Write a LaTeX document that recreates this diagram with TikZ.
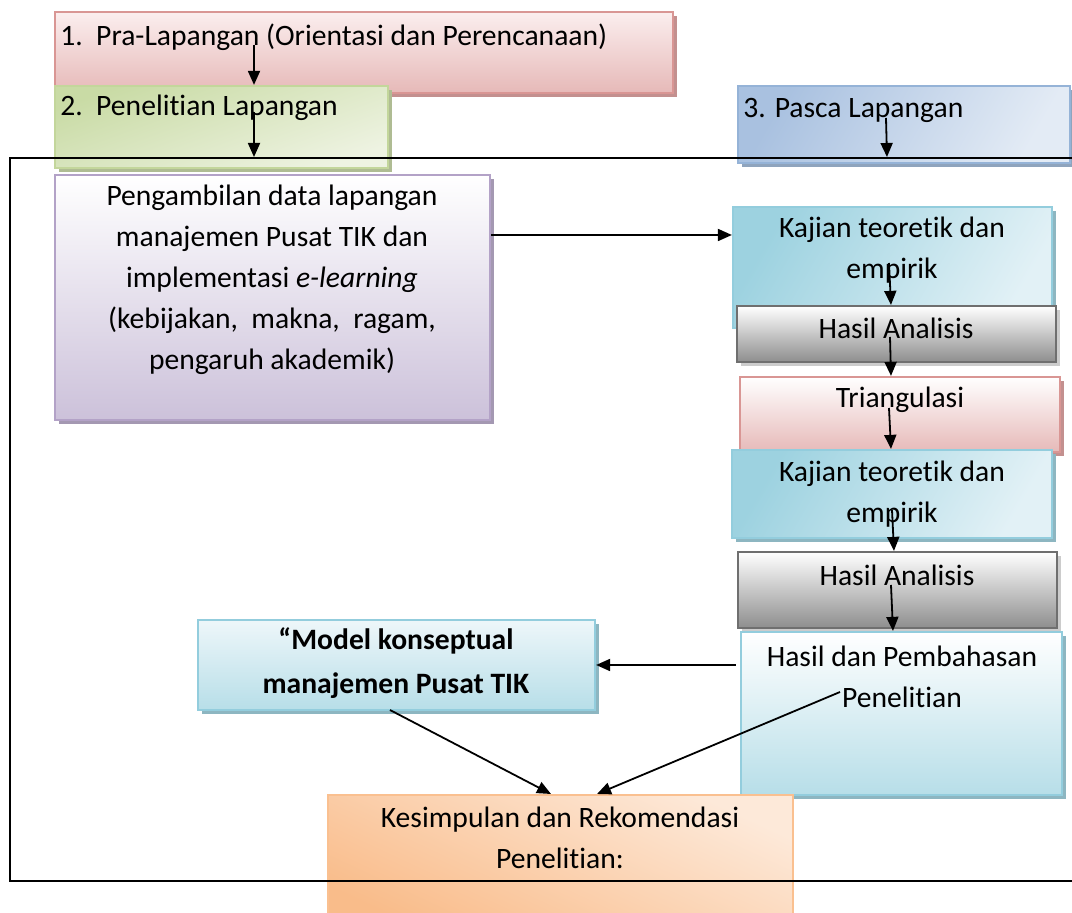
\documentclass[tikz,border=0pt]{standalone}
\usepackage{fontspec}
\setmainfont{Carlito}[Ligatures={NoCommon}]
\usetikzlibrary{arrows.meta,shadows}
\definecolor{pkB}{HTML}{D99694}\definecolor{pkT}{HTML}{FBEEEE}\definecolor{pkD}{HTML}{E6B9B8}
\definecolor{grB}{HTML}{C3D69B}\definecolor{grT}{HTML}{EEF3E2}\definecolor{grD}{HTML}{C9DBA5}
\definecolor{blB}{HTML}{95B3D7}\definecolor{blT}{HTML}{E3EBF5}\definecolor{blD}{HTML}{A9C1E0}
\definecolor{puB}{HTML}{B3A2C7}\definecolor{puD}{HTML}{CCC1DA}
\definecolor{cyB}{HTML}{93CDDD}\definecolor{cyT}{HTML}{E2F1F6}\definecolor{cyD}{HTML}{9DD2E0}
\definecolor{gyB}{HTML}{6F6F6F}\definecolor{gyD}{HTML}{8E8E8E}
\definecolor{hdD}{HTML}{B7DEE8}
\definecolor{orB}{HTML}{FAC090}\definecolor{orT}{HTML}{FDE9D9}\definecolor{orD}{HTML}{F9BC8A}
\tikzset{
  box/.style={rectangle,inner sep=0pt,line width=1.1pt},
  shad/.style={drop shadow={shadow xshift=2.2pt,shadow yshift=-2.2pt,fill=#1,opacity=1}},
  txt/.style={font=\fontsize{14.8}{20.5}\selectfont,inner sep=0pt,align=center},
  arr/.style={line width=0.9pt,-{Triangle[length=7pt,width=6pt]}},
  frame/.style={line width=0.9pt}
}
\begin{document}
\begin{tikzpicture}[x=0.5pt,y=-0.5pt]
\useasboundingbox (0,0) rectangle (1072,913);
% boxes
\node[box,draw=pkB,top color=pkT,bottom color=pkD,shad=pkB!75!gray,minimum width=309pt,minimum height=40.5pt] (b1) at (364,52.5) {};
\node[box,draw=grB,top color=grD,bottom color=grT,shading angle=20,shad=grB!70!gray,minimum width=166.5pt,minimum height=41pt] (b2) at (221.5,127) {};
\node[box,draw=blB,left color=blD,right color=blT,shading angle=60,shad=blB!70!gray,minimum width=166pt,minimum height=38.5pt] (b3) at (904,124.5) {};
\node[box,draw=puB,top color=white,bottom color=puD,shad=puB!70!gray,minimum width=217.5pt,minimum height=122.5pt] (pu) at (272.5,297.5) {};
\node[box,draw=cyB,left color=cyD,right color=cyT,shading angle=60,shad=cyB!70!gray,minimum width=159.5pt,minimum height=60.5pt] (k1) at (892.5,267.5) {};
\node[box,draw=gyB,top color=white,bottom color=gyD,shad=gray!40,minimum width=159.5pt,minimum height=28pt] (h1) at (896.5,334) {};
\node[box,draw=pkB,top color=white,bottom color=pkD,shad=pkB!75!gray,minimum width=160pt,minimum height=37.5pt] (tr) at (900,414.5) {};
\node[box,draw=cyB,left color=cyD,right color=cyT,shading angle=60,shad=cyB!70!gray,minimum width=160pt,minimum height=44pt] (k2) at (892,494) {};
\node[box,draw=gyB,top color=white,bottom color=gyD,shad=gray!40,minimum width=159.5pt,minimum height=38pt] (h2) at (897.5,590) {};
\node[box,draw=cyB,top color=white,bottom color=hdD,shad=cyB!70!gray,minimum width=160.5pt,minimum height=81.5pt] (hp) at (901.5,713.5) {};
\node[box,draw=cyB,top color=cyT!60!white,bottom color=hdD,shad=cyB!70!gray,minimum width=198.5pt,minimum height=45pt] (mo) at (396.5,665) {};
\node[box,draw=orB,top color=orT,bottom color=orD,shading angle=-25,minimum width=232.5pt,minimum height=67.5pt] (ks) at (560.5,862.5) {};
% texts
\node[txt,anchor=west] (t1) at (60,37) {1.\ \ Pra-Lapangan (Orientasi dan Perencanaan)};
\node[txt,anchor=west] (t2) at (60,108) {2.\ \ Penelitian Lapangan};
\node[txt,anchor=west] (t3) at (743,110) {3. Pasca Lapangan};
\node[txt] (tpu) at (272,280) {Pengambilan data lapangan\\manajemen Pusat TIK dan\\implementasi \textit{e-learning}\\(kebijakan,\ \ makna,\ \ ragam,\\pengaruh akademik)};
\node[txt] (tk1) at (892,250) {Kajian teoretik dan\\empirik};
\node[txt] (th1) at (896,328) {Hasil Analisis};
\node[txt] (ttr) at (900,400) {Triangulasi};
\node[txt] (tk2) at (892,494) {Kajian teoretik dan\\empirik};
\node[txt] (th2) at (897,575) {Hasil Analisis};
\node[txt] (thp) at (902,677) {Hasil dan Pembahasan\\Penelitian};
\node[txt,font=\fontsize{14.8}{22}\selectfont\bfseries] (tmo) at (396,663) {“Model konseptual\\manajemen Pusat TIK};
\node[txt] (tks) at (560,838) {Kesimpulan dan Rekomendasi\\Penelitian:};
% frame
\draw[frame] (1072,158) -- (10,158) -- (10,881) -- (1072,881);
% connector start/end points
\coordinate (s1) at (254,45);
\coordinate (s2) at (254,112);
\coordinate (e2) at (254,157);
\coordinate (s3) at (886,118);
\coordinate (e3) at (887,157);
\coordinate (s5) at (889,263);
\coordinate (s6) at (890,337);
\coordinate (s7) at (889,408);
\coordinate (s8) at (892,510);
\coordinate (s9) at (891,585);
\coordinate (s12) at (840,692);
\coordinate (e11) at (551,794);
\coordinate (e12) at (597,794);
\coordinate (s11) at (390,710);
% connectors
\draw[arr] (s1) -- (s1 |- b2.north);
\draw[arr] (s2) -- (e2);
\draw[arr] (s3) -- (e3);
\draw[arr] (pu.east |- 0,235) -- (k1.west |- 0,235);
\draw[arr] (s5) -- ([xshift=1pt]s5 |- h1.north);
\draw[arr] (s6) -- ([xshift=0.5pt]s6 |- tr.north);
\draw[arr] (s7) -- ([xshift=1pt]s7 |- k2.north);
\draw[arr] (s8) -- ([xshift=1pt]s8 |- h2.north);
\draw[arr] (s9) -- ([xshift=1pt]s9 |- hp.north);
\draw[arr] ([xshift=-2pt]hp.west |- mo.east) -- (mo.east);
\draw[arr] (s11) -- (e11);
\draw[arr] (s12) -- (e12);
\end{tikzpicture}
\end{document}
